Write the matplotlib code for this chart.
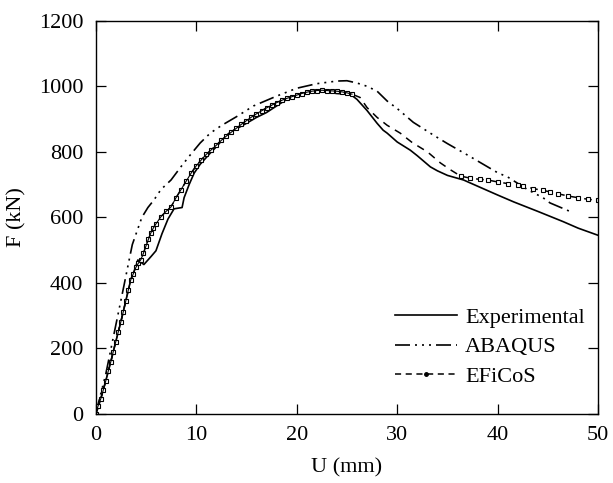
import matplotlib
matplotlib.use("Agg")
import matplotlib.pyplot as plt
from matplotlib.lines import Line2D
import numpy as np

# Experimental
exp_u = [0, 0.2, 0.5, 1, 1.5, 2, 2.5, 3, 3.5, 4, 4.2, 4.8, 5.5, 6, 6.6, 7.2, 7.8, 8.6, 8.8, 9.3, 9.8, 10.4, 11.4, 12, 13, 13.4,
         14, 15, 16, 17, 18, 19, 20, 21, 22, 23, 24, 25, 25.5, 26, 27, 28, 28.6, 29, 30, 31.3, 32, 33.3, 34, 35, 36.6, 38, 40,
         41.6, 44, 46.5, 48, 50]
exp_f = [0, 15, 45, 100, 158, 220, 280, 345, 410, 450, 470, 456, 480, 498, 550, 595, 626, 630, 660, 700, 735, 762, 796, 815, 850, 860,
         870, 887, 905, 920, 940, 960, 971, 978, 983, 982, 978, 976, 972, 960, 926, 887, 866, 857, 830, 805, 788, 754, 742, 728, 714,
         695, 668, 647, 618, 587, 567, 545]

# ABAQUS
abq_u = [0, 1, 2, 2.8, 3.3, 3.65, 4.14, 4.6, 5.2, 5.8, 6.5, 7.5, 8.5, 9.4, 10.4, 11.4, 12.5, 14, 15.7, 18, 20, 22, 24, 25, 26, 27,
         28, 29, 30, 31.6, 33.6, 35, 37, 39, 40, 41, 43, 44.5, 45.2, 47.5]
abq_f = [0, 120, 270, 389, 465, 517, 560, 600, 630, 653, 685, 714, 755, 790, 827, 857, 880, 907, 940, 970, 994, 1008, 1016, 1017,
         1010, 1000, 985, 955, 932, 890, 851, 825, 790, 754, 736, 723, 684, 660, 644, 614]

# EFiCoS
efi_u = [0, 0.25, 0.5, 0.75, 1, 1.25, 1.5, 1.75, 2, 2.25, 2.5, 2.75, 3, 3.25, 3.5, 3.75, 4, 4.25, 4.5, 4.75, 5, 5.25, 5.5, 5.75,
         6, 6.5, 7, 7.5, 8, 8.5, 9, 9.5, 10, 10.5, 11, 11.5, 12, 12.5, 13, 13.5, 14, 14.5, 15, 15.5, 16, 16.5, 17, 17.5, 18, 18.5,
         19, 19.5, 20, 20.5, 21, 21.5, 22, 22.5, 23, 23.5, 24, 24.5, 25, 25.5,
         26.3, 27, 28, 29, 30.3, 31.5, 33, 34.3, 35.3, 36.3,
         37.2, 38.2, 39, 40, 41, 42, 42.5, 43.5, 44.5, 45.2, 46, 47, 48, 49, 50]
efi_f = [0, 25, 45, 72, 100, 130, 158, 190, 220, 250, 280, 312, 345, 378, 410, 428, 447, 460, 471, 490, 512, 533, 553, 568,
         580, 602, 618, 632, 660, 685, 710, 735, 757, 775, 792, 806, 820, 835, 848, 860, 872, 884, 895, 906, 916, 925, 934, 942,
         950, 957, 963, 968, 973, 978, 982, 985, 987, 988, 987, 986, 985, 983, 980, 976,
         966, 935, 905, 881, 857, 828, 800, 766, 745, 726,
         720, 716, 714, 708, 703, 698, 696, 688, 682, 678, 672, 665, 660, 655, 652]

x_ticks = [0, 10, 20, 30, 40, 50]
y_ticks = [0, 200, 400, 600, 800, 1000, 1200]
series_names = ["Experimental", "ABAQUS", "EFiCoS"]

plt.rcParams['font.family'] = ['Liberation Serif', 'DejaVu Serif']
fig = plt.figure(figsize=(6.13, 4.83), dpi=100)
ax = fig.add_axes([0.156, 0.143, 0.820, 0.814])

ax.plot(exp_u, exp_f, color='black', lw=1.2, ls='-')
abq_style = (0, (9, 3, 1.2, 3, 1.2, 3, 1.2, 3))
ax.plot(abq_u, abq_f, color='black', lw=1.2, ls=abq_style)

efi_u_a = np.array(efi_u)
efi_f_a = np.array(efi_f)
ax.plot(efi_u_a, efi_f_a, color='black', lw=1.1, ls=(0, (5, 4)))
mask = (efi_u_a <= 25.6) | (efi_u_a >= 36.3)
ax.plot(efi_u_a[mask], efi_f_a[mask], ls='none', marker='s', ms=3.2, mfc='white', mec='black', mew=0.8)
sel = efi_u_a <= 25.6
ax.plot(efi_u_a[sel], efi_f_a[sel], color='black', lw=0.8)

ax.set_xlim(0, 50)
ax.set_ylim(0, 1200)
ax.set_xticks(x_ticks)
ax.set_yticks(y_ticks)
ax.tick_params(direction='in', length=7, width=0.9, top=True, right=True, labelsize=16, pad=9)
for s in ax.spines.values():
    s.set_linewidth(1.0)
ax.set_xlabel("U (mm)", fontsize=16, labelpad=9)
ax.set_ylabel("F (kN)", fontsize=16, labelpad=9)

handles = [Line2D([], [], color='black', lw=1.2, ls='-'),
           Line2D([], [], color='black', lw=1.2, ls=abq_style),
           Line2D([], [], color='black', lw=1.1, ls=(0, (4, 3)), marker='o', ms=2.5)]
ax.legend(handles, series_names, loc='lower right', bbox_to_anchor=(1.0, 0.035), frameon=False, fontsize=16,
          handlelength=2.8, handletextpad=0.35, labelspacing=0.4, numpoints=1, borderaxespad=0.2)

fig.savefig("out.png", dpi=100)
